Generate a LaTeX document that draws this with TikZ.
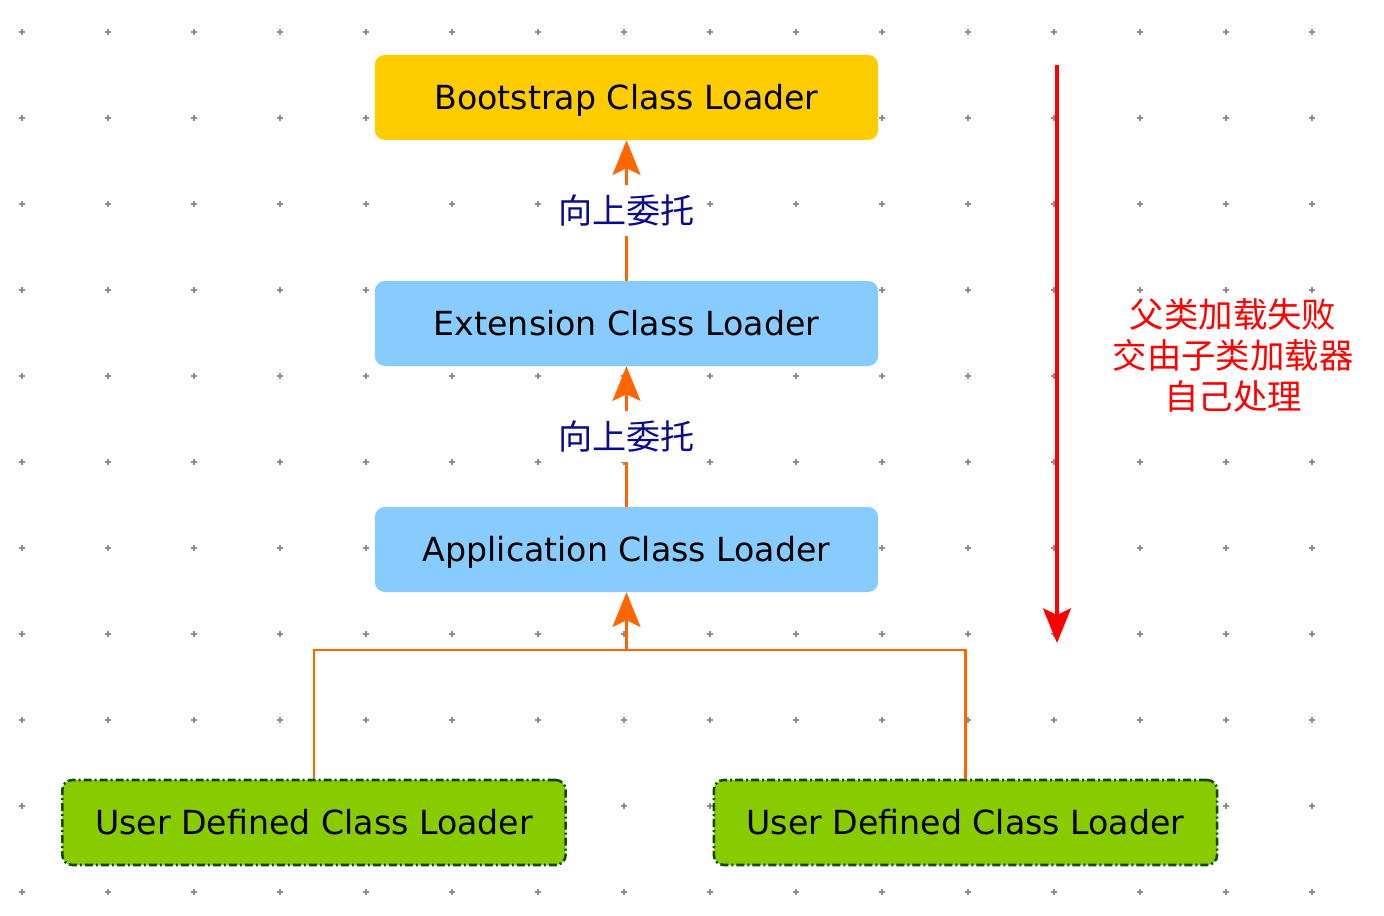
\documentclass[tikz,border=0pt]{standalone}
\usepackage{fontspec}
\setmainfont{DejaVu Sans}
\newfontfamily\cjk{Noto Sans CJK SC}
\usetikzlibrary{arrows.meta}
\definecolor{bootY}{HTML}{FFCC00}
\definecolor{extB}{HTML}{88CCFF}
\definecolor{userG}{HTML}{88CC00}
\definecolor{userBd}{HTML}{0E4D0E}
\definecolor{arrO}{HTML}{FF6600}
\definecolor{navyT}{HTML}{0A0A8C}
\definecolor{dotG}{HTML}{8E8E8E}
\begin{document}
\begin{tikzpicture}[x=0.75pt,y=-0.75pt,
  box/.style={rounded corners=7.5pt, minimum width=377.5pt, minimum height=63.75pt,
    inner sep=0pt, text height=18pt, text depth=0pt,
    font=\fontsize{24.9}{30}\selectfont},
  bootbox/.style={box, fill=bootY},
  extbox/.style={box, fill=extB},
  userbox/.style={box, fill=userG, draw=userBd, line width=1.9pt,
    dash pattern=on 6pt off 2.25pt on 1.5pt off 2.25pt},
  conn/.style={draw=arrO, line width=1.9pt},
  arr/.style={conn, -{Stealth[length=26pt, width=21pt, inset=5pt]}},
  deleg/.style={fill=white, text=navyT, inner xsep=5pt, inner ysep=7pt,
    font=\cjk\fontsize{25.6}{30}\selectfont},
  redarr/.style={draw=red, line width=2.4pt, -{Stealth[length=26pt, width=21pt, inset=5pt]}},
  note/.style={fill=white, text=red, align=center, inner sep=3pt,
    font=\cjk\fontsize{25.8}{30.75}\selectfont},
  plusdot/.style={draw=dotG, line width=1.4pt}
]
\useasboundingbox (0,0) rectangle (1384,916);
\fill[white] (0,0) rectangle (1384,916);
% grid of plus marks
\foreach \i in {0,...,15} {
  \foreach \j in {0,...,10} {
    \draw[plusdot] (22+86*\i-3, 32+86*\j) -- ++(6,0) (22+86*\i, 32+86*\j-3) -- ++(0,6);
  }
}
% nodes
\node[bootbox] (boot) at (626.5,97.5) {Bootstrap Class Loader};
\node[extbox] (ext) at (626.5,323.5) {Extension Class Loader};
\node[extbox] (app) at (626.5,549.5) {Application Class Loader};
\node[userbox] (u1) at (314,822.5) {User Defined Class Loader};
\node[userbox] (u2) at (965.5,822.5) {User Defined Class Loader};
\coordinate (j) at (626.5,650);
% connectors
\draw[arr] (ext.north) -- node[deleg] (d1) {向上委托} (boot.south);
\draw[arr] (app.north) -- node[deleg] (d2) {向上委托} (ext.south);
\draw[conn] (u1.north) |- (j);
\draw[conn] (u2.north) |- (j);
\draw[arr] (j) -- (app.south);
% red arrow and note
\coordinate (rs) at (1057,65);
\coordinate (re) at (1057,643);
\draw[redarr] (rs) -- (re);
\node[note] (n) at (1233,355) {父类加载失败\\交由子类加载器\\自己处理};
\end{tikzpicture}
\end{document}
